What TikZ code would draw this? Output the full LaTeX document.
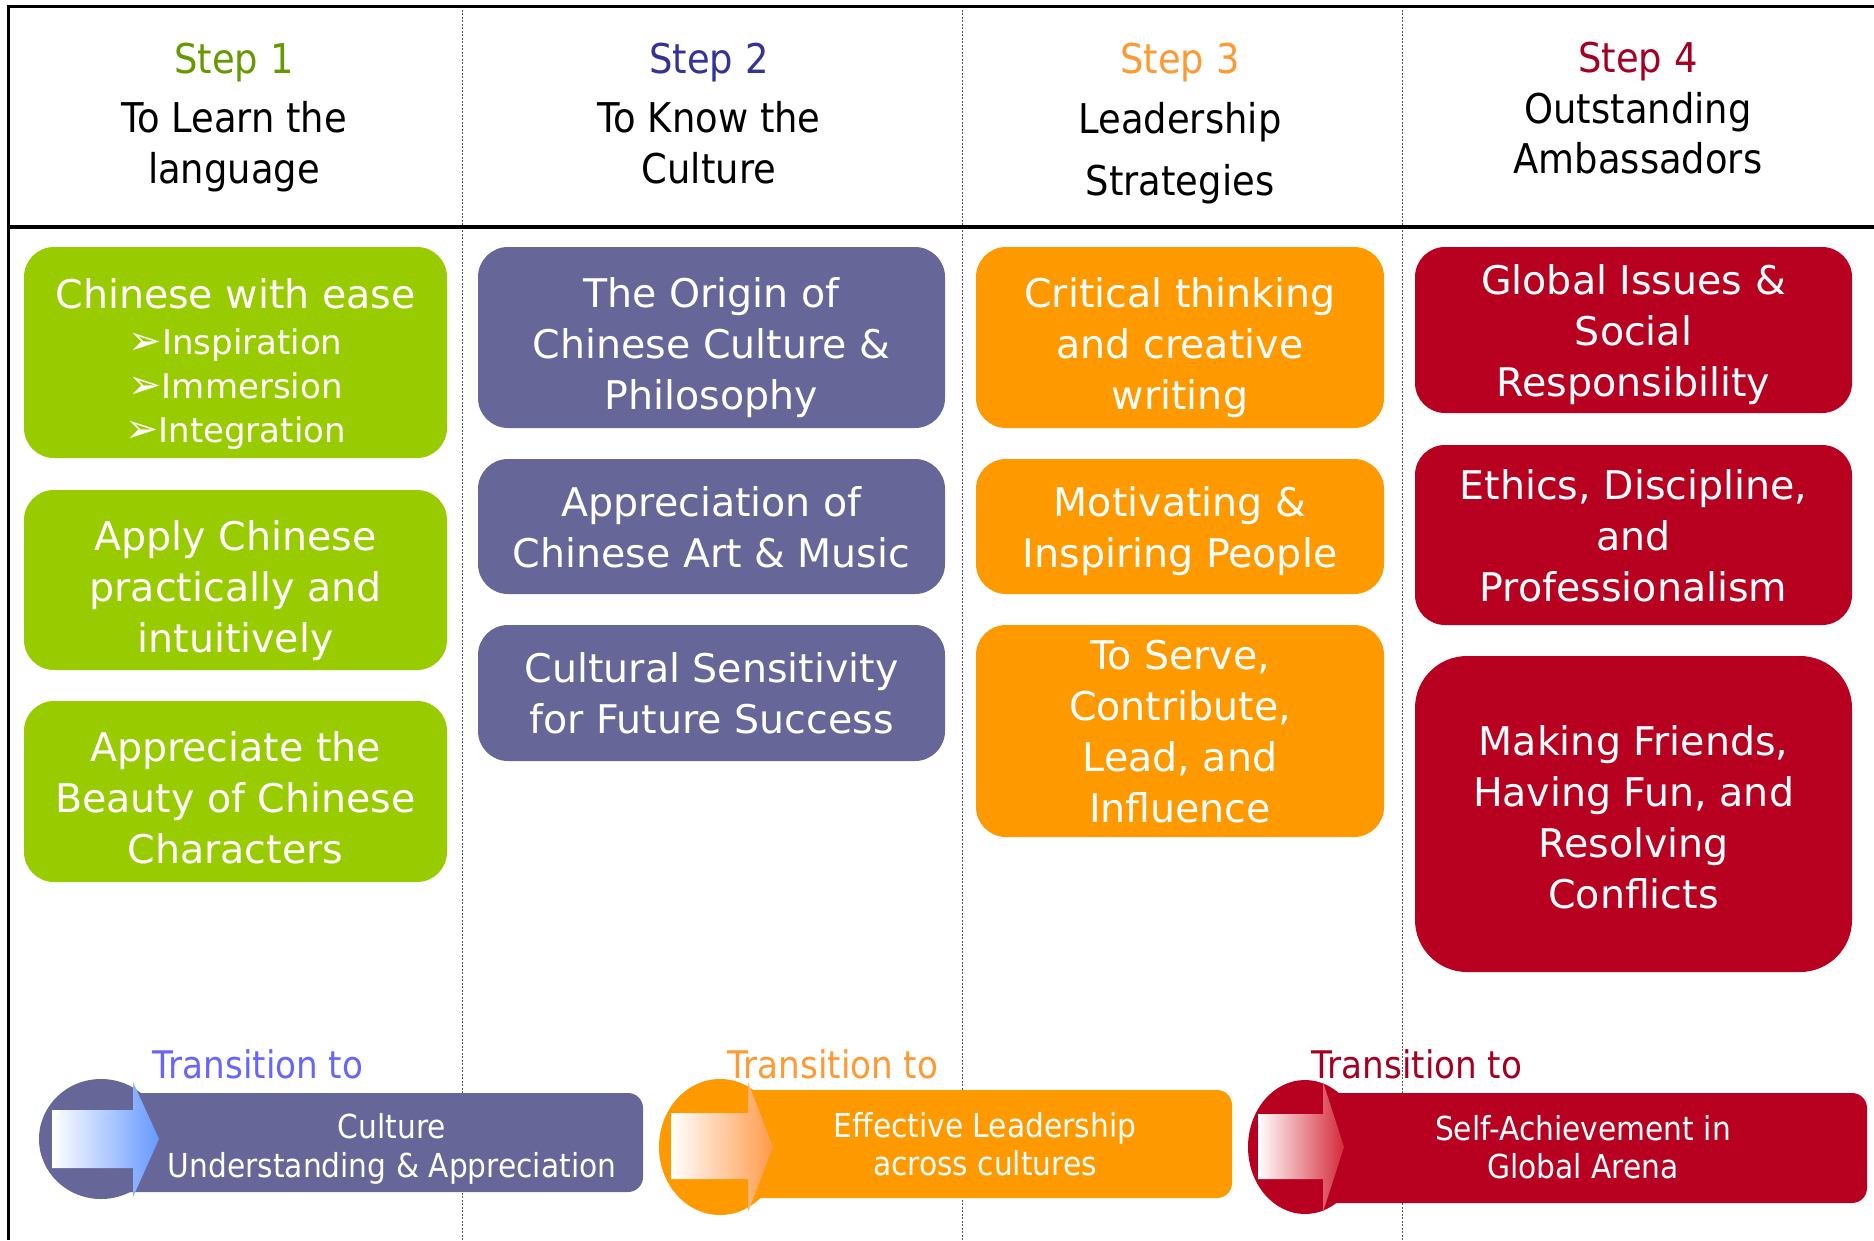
\documentclass[tikz,border=0pt]{standalone}
\usepackage{fontspec}
\setmainfont{DejaVu Sans}
\newfontfamily\hdfont{DejaVu Sans}[FakeStretch=0.9]
\newfontfamily\bxfont{DejaVu Sans}
\definecolor{cgreen}{HTML}{99CC00}
\definecolor{cpurple}{HTML}{666699}
\definecolor{corange}{HTML}{FF9900}
\definecolor{cred}{HTML}{B80020}
\definecolor{hgreen}{HTML}{669900}
\definecolor{hblue}{HTML}{333399}
\definecolor{horange}{HTML}{FF9933}
\definecolor{hred}{HTML}{A50021}
\definecolor{tblue}{HTML}{6666FF}
\definecolor{tipblue}{HTML}{6699FF}
\definecolor{tiporange}{HTML}{FF9A48}
\definecolor{tipred}{HTML}{D42A3A}
\definecolor{dashgray}{HTML}{555555}
\newcommand\bs{\rule[-10pt]{0pt}{50pt}}
\newcommand\bsu{\rule[-10pt]{0pt}{62pt}}
\newcommand\bsv{\rule[-10pt]{0pt}{55pt}}
\newcommand\bul{{\fontsize{40}{40}\selectfont ➢}}
\begin{document}
\begin{tikzpicture}[x=1pt,y=-1pt,
  box/.style={rounded corners=30pt, inner sep=0pt, text=white, align=center,
    font=\bxfont\fontsize{39.5}{51}\selectfont},
  head/.style={anchor=base, inner sep=0pt, font=\hdfont\fontsize{41}{41}\selectfont},
  trlabel/.style={anchor=base, inner sep=0pt, font=\hdfont\fontsize{38}{38}\selectfont},
  trtext/.style={anchor=base, inner sep=0pt, text=white, font=\hdfont\fontsize{33}{33}\selectfont},
  colline/.style={dashgray, line width=1pt, dash pattern=on 2pt off 1.5pt},
  frame/.style={black, line width=3pt},
  bar/.style={rounded corners=15pt},
]
\useasboundingbox (0,0) rectangle (1874,1240);
\fill[white] (0,0) rectangle (1874,1240);

% column separators
\draw[colline] (462,6) -- (462,1240);
\draw[colline] (962,6) -- (962,1240);
\draw[colline] (1402,6) -- (1402,1240);

% frame
\draw[frame] (6.5,6) -- (1874,6);
\draw[frame] (8,4.5) -- (8,1240);
\draw[frame, line width=3.5pt] (8,227) -- (1874,227);

% headers
\node[head, text=hgreen] (s1) at (234,73) {Step 1};
\node[head] (s1a) at (234,132) {To Learn the};
\node[head] (s1b) at (234,183) {language};
\node[head, text=hblue] (s2) at (709,73) {Step 2};
\node[head] (s2a) at (709,132) {To Know the};
\node[head] (s2b) at (709,183) {Culture};
\node[head, text=horange] (s3) at (1180,73) {Step 3};
\node[head] (s3a) at (1180,133) {Leadership};
\node[head] (s3b) at (1180,195) {Strategies};
\node[head, text=hred] (s4) at (1638,72) {Step 4};
\node[head] (s4a) at (1638,123) {Outstanding};
\node[head] (s4b) at (1638,173) {Ambassadors};

% column 1
\node[box, fill=cgreen, minimum width=423pt, minimum height=211pt,
      font=\bxfont\fontsize{34}{44}\selectfont] (g1) at (235.5,352.5)
  {\rule{0pt}{54pt}{\fontsize{39.5}{44}\selectfont Chinese with ease}\\[2pt]
   \bul Inspiration\\
   \bul Immersion\\
   \bul Integration};
\node[box, fill=cgreen, minimum width=423pt, minimum height=180pt] (g2) at (235.5,580)
  {\bsu Apply Chinese\\\bs practically and\\\bs intuitively};
\node[box, fill=cgreen, minimum width=423pt, minimum height=181pt] (g3) at (235.5,791.5)
  {\bsu Appreciate the\\\bs Beauty of Chinese\\\bs Characters};

% column 2
\node[box, fill=cpurple, minimum width=467pt, minimum height=181pt] (p1) at (711.5,337.5)
  {\bsu The Origin of\\\bs Chinese Culture \&\\\bs Philosophy};
\node[box, fill=cpurple, minimum width=467pt, minimum height=135pt] (p2) at (711.5,526.5)
  {\bs Appreciation of\\\bs Chinese Art \& Music};
\node[box, fill=cpurple, minimum width=467pt, minimum height=136pt] (p3) at (711.5,693)
  {\bs Cultural Sensitivity\\\bs for Future Success};

% column 3
\node[box, fill=corange, minimum width=408pt, minimum height=181pt] (o1) at (1180,337.5)
  {\bsu Critical thinking\\\bs and creative\\\bs writing};
\node[box, fill=corange, minimum width=408pt, minimum height=135pt] (o2) at (1180,526.5)
  {\bs Motivating \&\\\bs Inspiring People};
\node[box, fill=corange, minimum width=408pt, minimum height=212pt] (o3) at (1180,731)
  {\bs To Serve,\\\bs Contribute,\\\bs Lead, and\\\bs Influence};

% column 4
\node[box, fill=cred, minimum width=437pt, minimum height=166pt] (r1) at (1633.5,330)
  {\bs Global Issues \&\\\bs Social\\\bs Responsibility};
\node[box, fill=cred, minimum width=437pt, minimum height=180pt] (r2) at (1633.5,535)
  {\bs Ethics, Discipline,\\\bs and\\\bs Professionalism};
\node[box, fill=cred, rounded corners=52pt, minimum width=437pt, minimum height=316pt] (r3) at (1633.5,814)
  {\bsv Making Friends,\\\bs Having Fun, and\\\bs Resolving\\\bs Conflicts};

% transition 1
\node[trlabel, text=tblue] (t1) at (258,1078) {Transition to};
\fill[cpurple, bar] (100,1093) rectangle (643,1192);
\fill[cpurple] (101,1139) ellipse [x radius=62, y radius=60];
\shade[left color=white, right color=tipblue]
  (52,1110) -- (133,1110) -- (133,1082) -- (159,1139) -- (133,1197) -- (133,1168) -- (52,1168) -- cycle;
\node[trtext] (t1a) at (392,1138) {Culture};
\node[trtext] (t1b) at (392,1177) {Understanding \& Appreciation};

% transition 2
\node[trlabel, text=horange] (t2) at (833,1078) {Transition to};
\fill[corange, bar] (715,1090) rectangle (1232,1198);
\fill[corange] (720,1147) ellipse [x radius=61, y radius=68];
\shade[left color=white, right color=tiporange]
  (671,1113) -- (748,1113) -- (748,1082) -- (773,1147) -- (748,1212) -- (748,1179) -- (671,1179) -- cycle;
\node[trtext] (t2a) at (985,1137) {Effective Leadership};
\node[trtext] (t2b) at (985,1175) {across cultures};

% transition 3
\node[trlabel, text=hred] (t3) at (1417,1078) {Transition to};
\fill[cred, bar] (1300,1093) rectangle (1867,1203);
\fill[cred] (1305,1147) ellipse [x radius=57, y radius=67];
\shade[left color=white, right color=tipred]
  (1258,1114) -- (1323,1114) -- (1323,1082) -- (1344,1147) -- (1323,1212) -- (1323,1179) -- (1258,1179) -- cycle;
\node[trtext] (t3a) at (1583,1140) {Self-Achievement in};
\node[trtext] (t3b) at (1583,1178) {Global Arena};
\end{tikzpicture}
\end{document}
